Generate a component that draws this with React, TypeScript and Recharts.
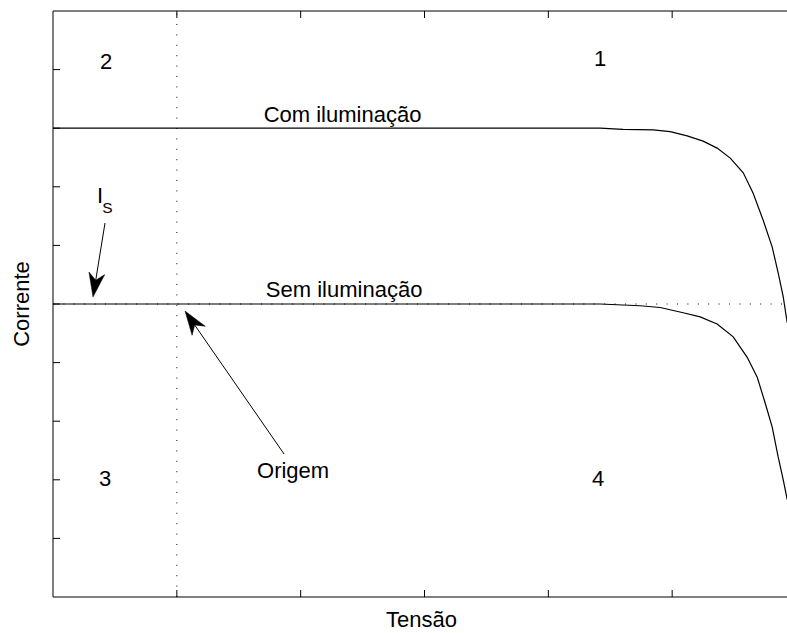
import React from "react";
import {
  LineChart,
  Line,
  XAxis,
  YAxis,
  ReferenceLine,
  ReferenceDot,
  Label,
} from "recharts";

// tensão (x) and corrente (y)
const comV = [-1, 3.418, 3.604, 3.847, 3.984, 4.121, 4.25, 4.363, 4.469, 4.574, 4.654, 4.735, 4.808, 4.856, 4.897, 4.929];
const comI = [3, 3, 2.98, 2.97, 2.94, 2.87, 2.78, 2.66, 2.49, 2.24, 1.89, 1.43, 0.97, 0.53, 0.12, -0.32];

const semV = [-1, 0, 3.418, 3.741, 3.903, 4.089, 4.226, 4.363, 4.493, 4.606, 4.687, 4.751, 4.808, 4.856, 4.897, 4.929];
const semI = [0, 0, 0, -0.03, -0.06, -0.15, -0.22, -0.34, -0.56, -0.91, -1.25, -1.69, -2.1, -2.61, -3.0, -3.34];

const xTicks = [0, 1, 2, 3, 4];
const yTicks = [-4, -3, -2, -1, 0, 1, 2, 3, 4];

// annotations: [text, x, y, fontSize]
const notes: [string, number, number, number][] = [
  ["1", 3.418, 4.2, 22],
  ["2", -0.572, 4.15, 22],
  ["3", -0.58, -2.97, 22],
  ["4", 3.402, -2.97, 22],
  ["Com iluminação", 1.338, 3.24, 22],
  ["Sem iluminação", 1.351, 0.256, 22],
  ["Origem", 0.939, -2.833, 22],
  ["I", -0.62, 1.857, 22],
  ["S", -0.56, 1.647, 15.5],
];

// arrows: [fromX, fromY, toX, toY]
const arrows: [number, number, number, number][] = [
  [-0.58, 1.382, -0.677, 0.119],
  [0.866, -2.56, 0.066, -0.12],
];

const comData = comV.map((v, i) => ({ v, i: comI[i] }));
const semData = semV.map((v, i) => ({ v, i: semI[i] }));

const FONT = "'Liberation Sans', Arial, sans-serif";
const TICK = 7;

const ArrowShape = (p: any) => {
  const { x1, y1, x2, y2 } = p;
  const dx = x1 - x2;
  const dy = y1 - y2;
  const len = Math.sqrt(dx * dx + dy * dy);
  const ux = dx / len;
  const uy = dy / len;
  const px = -uy;
  const py = ux;
  const L = 24;
  const W = 8;
  const bx = x2 + ux * L;
  const by = y2 + uy * L;
  const nx = x2 + ux * 17;
  const ny = y2 + uy * 17;
  const pts = [
    [x2, y2],
    [bx + px * W, by + py * W],
    [nx, ny],
    [bx - px * W, by - py * W],
  ]
    .map((q) => q.join(","))
    .join(" ");
  return (
    <g>
      <line x1={x1} y1={y1} x2={nx} y2={ny} stroke="#000" strokeWidth={1} />
      <polygon points={pts} fill="#000" stroke="#000" strokeWidth={0.5} />
    </g>
  );
};

const tickDown = (p: any) => <line x1={p.x} y1={p.y} x2={p.x} y2={p.y - TICK} stroke="#000" />;
const tickUp = (p: any) => <line x1={p.x} y1={p.y} x2={p.x} y2={p.y + TICK} stroke="#000" />;
const tickRight = (p: any) => <line x1={p.x} y1={p.y} x2={p.x + TICK} y2={p.y} stroke="#000" />;
const tickLeft = (p: any) => <line x1={p.x} y1={p.y} x2={p.x - TICK} y2={p.y} stroke="#000" />;

export default function App() {
  return (
    <div style={{ position: "absolute", left: 0, top: 0, width: 787, height: 633, overflow: "hidden", background: "#fff" }}>
      <LineChart width={800} height={633} margin={{ top: 0, right: 0, bottom: 0, left: 0 }}>
        <XAxis
          xAxisId="b"
          type="number"
          dataKey="v"
          domain={[-1, 5]}
          ticks={xTicks}
          height={36}
          tickSize={0}
          tickMargin={0}
          tickLine={false}
          tick={tickDown}
          axisLine={{ stroke: "#000" }}
          allowDataOverflow
        >
          <Label
            content={({ viewBox }: any) => (
              <text x={viewBox.x + viewBox.width / 2 - 3} y={627} textAnchor="middle" fontSize={22} fontFamily={FONT} fill="#000">
                Tensão
              </text>
            )}
          />
        </XAxis>
        <XAxis
          xAxisId="t"
          orientation="top"
          type="number"
          dataKey="v"
          domain={[-1, 5]}
          ticks={xTicks}
          height={11}
          tickSize={0}
          tickMargin={0}
          tickLine={false}
          tick={tickUp}
          axisLine={{ stroke: "#000" }}
          allowDataOverflow
        />
        <YAxis
          yAxisId="l"
          type="number"
          domain={[-5, 5]}
          ticks={yTicks}
          width={53}
          tickSize={0}
          tickMargin={0}
          tickLine={false}
          tick={tickRight}
          axisLine={{ stroke: "#000" }}
          allowDataOverflow
        >
          <Label
            content={({ viewBox }: any) => {
              const cy = viewBox.y + viewBox.height / 2;
              return (
                <text x={29} y={cy} transform={`rotate(-90, 29, ${cy})`} textAnchor="middle" fontSize={22} fontFamily={FONT} fill="#000">
                  Corrente
                </text>
              );
            }}
          />
        </YAxis>
        <YAxis
          yAxisId="r"
          orientation="right"
          type="number"
          domain={[-5, 5]}
          ticks={yTicks}
          width={4}
          tickSize={0}
          tickMargin={0}
          tickLine={false}
          tick={tickLeft}
          axisLine={{ stroke: "#000" }}
          allowDataOverflow
        />

        <ReferenceLine xAxisId="b" yAxisId="l" x={0} stroke="#000" strokeDasharray="1 9.4" />
        <ReferenceLine xAxisId="b" yAxisId="l" y={0} stroke="#000" strokeDasharray="1 9.4" />

        <Line
          xAxisId="b"
          yAxisId="l"
          data={comData}
          dataKey="i"
          type="linear"
          stroke="#000"
          strokeWidth={1.2}
          dot={false}
          isAnimationActive={false}
        />
        <Line
          xAxisId="b"
          yAxisId="l"
          data={semData}
          dataKey="i"
          type="linear"
          stroke="#000"
          strokeWidth={1.2}
          dot={false}
          isAnimationActive={false}
        />

        {arrows.map(([fx, fy, tx, ty], k) => (
          <ReferenceLine
            key={"a" + k}
            xAxisId="b"
            yAxisId="l"
            segment={[
              { x: fx, y: fy },
              { x: tx, y: ty },
            ]}
            shape={ArrowShape}
          />
        ))}

        {notes.map(([txt, x, y, fs], k) => (
          <ReferenceDot
            key={"n" + k}
            xAxisId="b"
            yAxisId="l"
            x={x}
            y={y}
            r={0}
            stroke="none"
            fill="none"
            label={{ value: txt, position: "center", fontSize: fs, fontFamily: FONT, fill: "#000" }}
          />
        ))}
      </LineChart>
    </div>
  );
}
